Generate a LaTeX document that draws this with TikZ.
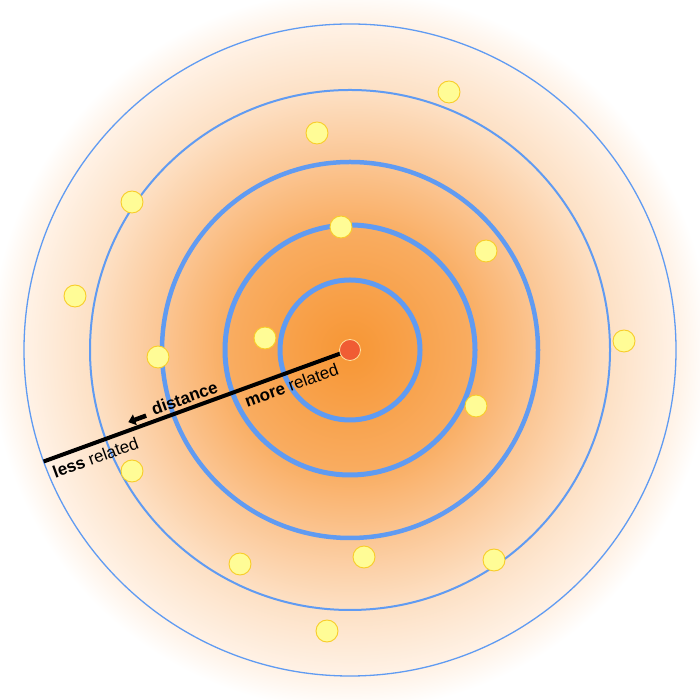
\documentclass[tikz,border=0pt]{standalone}
\usepackage{fontspec}
\setmainfont{Liberation Sans}
\usetikzlibrary{arrows.meta}
\definecolor{ringblue}{RGB}{96,155,242}
\definecolor{dotfill}{RGB}{255,252,150}
\definecolor{dotedge}{RGB}{248,205,40}
\definecolor{reddot}{RGB}{240,92,52}
\definecolor{reddotedge}{RGB}{255,225,160}
\definecolor{g0}{RGB}{247,150,52}
\definecolor{g1}{RGB}{249,172,96}
\definecolor{g2}{RGB}{251,198,148}
\definecolor{g3}{RGB}{253,224,196}
\definecolor{g4}{RGB}{255,243,232}
\pgfdeclareradialshading{glow}{\pgfpoint{0bp}{0bp}}{%
  color(0bp)=(g0); color(8.3bp)=(g1); color(13.2bp)=(g2); color(18bp)=(g3);
  color(22.9bp)=(g4); color(25bp)=(white); color(50bp)=(white)}
\tikzset{
  ring/.style={draw=ringblue},
  ydot/.style={circle, fill=dotfill, draw=dotedge, line width=0.9pt, minimum size=22pt, inner sep=0pt},
  lbl/.style={font=\fontsize{17}{19}\selectfont, transform shape, inner sep=0pt},
}
\begin{document}
\begin{tikzpicture}[x=1pt,y=1pt]
\useasboundingbox (0,0) rectangle (700,700);
\fill[white] (0,0) rectangle (700,700);
\coordinate (c) at (350,350);
\shade[shading=glow] (c) circle (360);
\draw[ring, line width=5pt] (c) circle (70);
\draw[ring, line width=5pt] (c) circle (125);
\draw[ring, line width=4.5pt] (c) circle (188);
\draw[ring, line width=2pt] (c) circle (260);
\draw[ring, line width=1.3pt] (c) circle (326);
% dots
\node[ydot] (d1) at (449,608) {};
\node[ydot] (d2) at (317,567) {};
\node[ydot] (d3) at (132,498) {};
\node[ydot] (d4) at (341,473) {};
\node[ydot] (d5) at (486,449) {};
\node[ydot] (d6) at (75,404) {};
\node[ydot] (d7) at (624,359) {};
\node[ydot] (d8) at (265,362) {};
\node[ydot] (d9) at (158,343) {};
\node[ydot] (d10) at (476,294) {};
\node[ydot] (d11) at (132,229) {};
\node[ydot] (d12) at (240,136) {};
\node[ydot] (d13) at (364,143) {};
\node[ydot] (d14) at (494,140) {};
\node[ydot] (d15) at (327,69) {};
% axis line and labels
\begin{scope}[shift={(350,350)}, rotate=20]
  \coordinate (e) at (-326,0);
  \coordinate (o) at (0,0);
  \draw[line width=4pt, line cap=butt] (o) -- (e);
  \node[lbl] (more) at (-67,-13) {\textbf{more} related};
  \node[lbl] (less) at (-276,-14) {\textbf{less} related};
  \node[lbl] (dist) at (-172,11.5) {\textbf{distance}};
  \coordinate (at) at (-214,8);
  \coordinate (ah) at (-233,8);
  \draw[line width=4.5pt, -{Triangle[length=7pt,width=11pt]}] (at) -- (ah);
\end{scope}
\node[circle, fill=reddot, draw=reddotedge, line width=0.8pt, minimum size=21pt, inner sep=0pt] (center) at (c) {};
\end{tikzpicture}
\end{document}
